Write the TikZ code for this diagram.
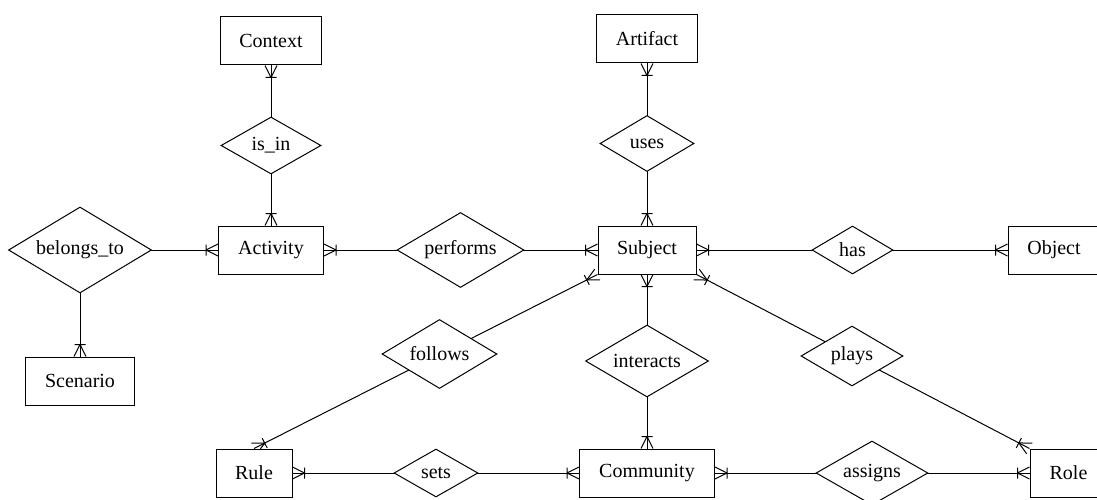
\documentclass[tikz,border=0pt]{standalone}
\usepackage{fontspec}
\setmainfont{Liberation Serif}
\usetikzlibrary{shapes.geometric,decorations.markings,backgrounds}

% crow's foot (one-or-many) at both ends of a relationship line
\tikzset{
  crowfeet/.style={postaction={decorate,decoration={markings,
    mark=at position 0 with {\draw[line width=1pt] (12,0) -- (0,6) (12,0) -- (0,-6) (12,-5.5) -- (12,5.5);},
    mark=at position 1 with {\draw[line width=1pt] (-12,0) -- (0,6) (-12,0) -- (0,-6) (-12,-5.5) -- (-12,5.5);}}}},
  link/.style={line width=1pt, crowfeet},
  entity/.style={rectangle, draw, fill=white, line width=1pt, minimum height=48pt, inner sep=0pt,
                 font=\fontsize{20}{22}\selectfont},
  relation/.style={diamond, draw, fill=white, line width=1pt, inner sep=0pt,
                   font=\fontsize{20}{22}\selectfont}
}

\begin{document}
\begin{tikzpicture}[x=1pt,y=-1pt]
\clip (0,0) rectangle (1097,500);

% entities
\node[entity, minimum width=101pt] (Context)   at (271,41)     {Context};
\node[entity, minimum width=101pt] (Artifact)  at (647,39)     {Artifact};
\node[entity, minimum width=105pt] (Activity)  at (271,250)    {Activity};
\node[entity, minimum width=98pt]  (Subject)   at (647,250)    {Subject};
\node[entity, minimum width=92pt]  (Object)    at (1054,250)   {Object};
\node[entity, minimum width=109pt] (Scenario)  at (80,381)     {Scenario};
\node[entity, minimum width=76pt]  (Rule)      at (254,473)    {Rule};
\node[entity, minimum width=135pt] (Community) at (647,473)    {Community};
\node[entity, minimum width=77pt]  (Role)      at (1068.5,473) {Role};

% relationships
\node[relation, minimum width=100pt, minimum height=57pt, aspect=1.75] (isin)      at (271,145.5) {is\_in};
\node[relation, minimum width=94pt,  minimum height=56pt, aspect=1.68] (uses)      at (647,143.5) {uses};
\node[relation, minimum width=143pt, minimum height=86pt, aspect=1.66] (belongsto) at (80,250)    {belongs\_to};
\node[relation, minimum width=127pt, minimum height=75pt, aspect=1.7]  (performs)  at (460.5,250) {performs};
\node[relation, minimum width=81pt,  minimum height=48pt, aspect=1.7]  (has)       at (852.5,250) {has};
\node[relation, minimum width=115pt, minimum height=69pt, aspect=1.67] (follows)   at (439.5,354) {follows};
\node[relation, minimum width=123pt, minimum height=72pt, aspect=1.7]  (interacts) at (647,361)   {interacts};
\node[relation, minimum width=102pt, minimum height=60pt, aspect=1.7]  (plays)     at (852,356)   {plays};
\node[relation, minimum width=84pt,  minimum height=48pt, aspect=1.75] (sets)      at (436,473)   {sets};
\node[relation, minimum width=112pt, minimum height=64pt, aspect=1.75] (assigns)   at (872,473)   {assigns};

% relationship lines, behind the diamonds
\begin{scope}[on background layer]
  \draw[link] (Context.south)  -- (Activity.north);
  \draw[link] (Artifact.south) -- (Subject.north);
  \draw[link] (Activity.west)  -| (Scenario.north);
  \draw[link] (Activity.east)  -- (Subject.west);
  \draw[link] (Subject.east)   -- (Object.west);
  \draw[link] (Subject.south)  -- (Community.north);
  \draw[link] (Rule.north)     -- (Subject.south west);
  \draw[link] (Subject.south east) -- (Role.north west);
  \draw[link] (Rule.east)      -- (Community.west);
  \draw[link] (Community.east) -- (Role.west);
\end{scope}
\end{tikzpicture}
\end{document}
